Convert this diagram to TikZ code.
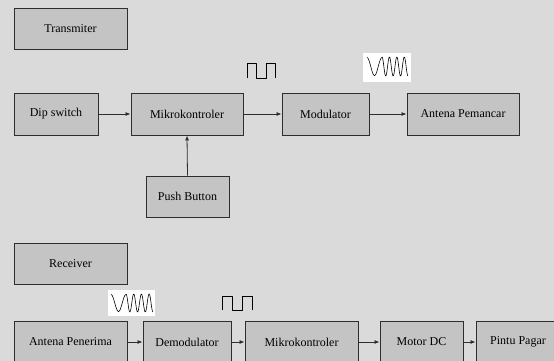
\documentclass[tikz,border=0pt]{standalone}
\usepackage{fontspec}
\setmainfont{Liberation Serif}
\usetikzlibrary{arrows.meta,positioning}
\definecolor{gBack}{HTML}{DADADA}
\definecolor{gBox}{HTML}{C4C4C4}
\definecolor{gDark}{HTML}{2E2E2E}
\tikzset{
  setB/.style={
    font=\fontsize{12pt}{14pt}\selectfont,
    line cap=butt, line join=miter,
    line width=0.8pt,
  },
  block/.style={
    draw=gDark, fill=gBox, line width=0.9pt,
    minimum height=41pt, inner sep=2pt, align=center,
  },
  flow/.style={-{Latex[length=5pt, width=4pt]}, gDark, line width=0.8pt},
  wave/.style={black, line width=0.6pt, line join=round},
  waveBack/.style={fill=white, draw=none},
}

\begin{document}
\begin{tikzpicture}[setB, x=1pt, y=-1pt]

% canvas (pixel coordinates, y grows downward)
\fill[gBack] (0,0) rectangle (554,361);
\clip (0,0) rectangle (554,361);

% ============================================================
% TRANSMITTER
% ============================================================
\node[block, minimum width=113pt] (tx) at (70.5, 28.5) {Transmiter};

\node[block, minimum width=84pt,  minimum height=42pt] (dip)   at (56, 114)    {Dip switch};
\node[block, minimum width=112pt, minimum height=42pt] (mcuA)  at (187, 114)   {Mikrokontroler};
\node[block, minimum width=87pt,  minimum height=42pt] (mod)   at (325.5, 114) {Modulator};
\node[block, minimum width=112pt, minimum height=42pt] (antTx) at (463, 114)   {Antena Pemancar};
\node[block, minimum width=83pt] (push) at (187.5, 196.5) {Push Button};

\draw[flow] (dip.east) -- (mcuA.west);
\draw[flow] (mcuA.east) -- (mod.west);
\draw[flow] (mod.east) -- (antTx.west);
\draw[flow] (push.north) -- (mcuA.south);

% digital signal after the microcontroller
\draw[wave] (247,78) -- (247,63) -- (256.5,63) -- (256.5,78)
  -- (266,78) -- (266,63) -- (275.5,63) -- (275.5,78);

% modulated signal after the modulator: one wide cycle, then narrow ones
\fill[waveBack] (363,53) rectangle (411,82);
\begin{scope}[shift={(367,66.5)}]
  \draw[wave] plot[variable=\t, domain=0:15, samples=40, smooth]
    (\t, {-9*cos(24*\t)});
  \draw[wave] plot[variable=\t, domain=15:41, samples=90, smooth]
    (\t, {-9.5*cos(48.5*(\t-15))});
\end{scope}

% ============================================================
% RECEIVER
% ============================================================
\node[block, minimum width=113pt] (rx) at (70.5, 263.5) {Receiver};

\node[block, minimum width=113pt, minimum height=42pt] (antRx) at (70.5, 342)  {Antena Penerima};
\node[block, minimum width=88pt,  minimum height=42pt] (demod) at (187, 342)   {Demodulator};
\node[block, minimum width=113pt, minimum height=42pt] (mcuB)  at (301.5, 342) {Mikrokontroler};
\node[block, minimum width=83pt,  minimum height=42pt] (motor) at (421.5, 342) {Motor DC};
\node[block, minimum width=84pt,  minimum height=42pt] (gate)  at (518, 342)   {Pintu Pagar};

\draw[flow] (antRx.east) -- (demod.west);
\draw[flow] (demod.east) -- (mcuB.west);
\draw[flow] (mcuB.east) -- (motor.west);
\draw[flow] (motor.east) -- (gate.west);

% modulated signal before the demodulator
\fill[waveBack] (108,290) rectangle (155,316);
\begin{scope}[shift={(111,303)}]
  \draw[wave] plot[variable=\t, domain=0:15, samples=40, smooth]
    (\t, {-8.5*cos(24*\t)});
  \draw[wave] plot[variable=\t, domain=15:42, samples=90, smooth]
    (\t, {-9*cos(46.7*(\t-15))});
\end{scope}

% digital signal after the demodulator
\draw[wave] (222,310) -- (222,296) -- (232,296) -- (232,310)
  -- (242,310) -- (242,296) -- (252,296) -- (252,310);

\end{tikzpicture}
\end{document}
